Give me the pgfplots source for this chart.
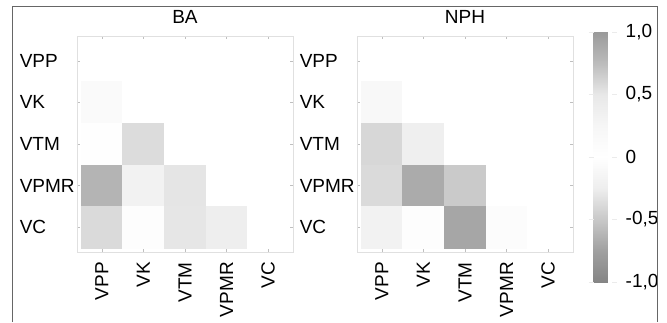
\documentclass[border=0pt]{standalone}
\usepackage{fontspec}
\setmainfont{Liberation Sans}
\usepackage{pgfplots}
\usepackage{pgfplotstable}
\pgfplotsset{compat=1.18}

\pgfplotstableread{
x y c
0 0 0
1 0 0
2 0 0
3 0 0
4 0 0
0 1 0.14
1 1 0
2 1 0
3 1 0
4 1 0
0 2 0.03
1 2 0.57
2 2 0
3 2 0
4 2 0
0 3 0.81
1 3 0.32
2 3 0.52
3 3 0
4 3 0
0 4 0.58
1 4 0.06
2 4 0.51
3 4 0.39
4 4 0
}\tableBA

\pgfplotstableread{
x y c
0 0 0
1 0 0
2 0 0
3 0 0
4 0 0
0 1 0.19
1 1 0
2 1 0
3 1 0
4 1 0
0 2 0.60
1 2 0.375
2 2 0
3 2 0
4 2 0
0 3 0.58
1 3 0.875
2 3 0.67
3 3 0
4 3 0
0 4 0.32
1 4 0.06
2 4 0.91
3 4 0.08
4 4 0
}\tableNPH

\begin{document}
\begin{tikzpicture}
\useasboundingbox (0pt,0pt) rectangle (667pt,322pt);
\pgfplotsset{
  myax/.style={
    scale only axis, width=216pt, height=216pt,
    anchor=north west,
    xmin=-0.6, xmax=4.6, ymin=-0.6, ymax=4.6, y dir=reverse,
    xtick={0,...,4}, ytick={0,...,4},
    xticklabels={VPP,VK,VTM,VPMR,VC},
    yticklabels={VPP,VK,VTM,VPMR,VC},
    axis line style={draw=black!12, line width=0.8pt},
    tick style={draw=black!25, line width=0.6pt},
    major tick length=3pt, tick align=inside,
    font=\fontsize{19}{22}\selectfont,
    xticklabel style={yshift=-10pt, rotate=90, anchor=east, inner sep=0pt},
    yticklabel style={text width=56pt, align=left, anchor=east, inner sep=0pt, xshift=-1pt},
    title style={anchor=base, inner sep=0pt, yshift=7pt},
    colormap={gr}{rgb255=(133,133,133) rgb255=(160,160,160) rgb255=(200,200,200) rgb255=(238,238,238) rgb255=(255,255,255) rgb255=(246,246,246) rgb255=(232,232,232) rgb255=(188,188,188) rgb255=(154,154,154)},
    point meta min=-1, point meta max=1,
  }
}
\begin{axis}[myax, at={(77pt,286pt)}, title={BA}]
\addplot[matrix plot*, mesh/cols=5, point meta=explicit] table[x=x, y=y, meta=c] {\tableBA};
\end{axis}
\begin{axis}[myax, at={(357pt,286pt)}, title={NPH},
  colorbar,
  colorbar style={
    at={(parent axis.north east)}, anchor=north west,
    xshift=12pt, yshift=4pt,
    scale only axis, width=18pt, height=250pt,
    ytick={-1,-0.5,0,0.5,1},
    yticklabels={{-1,0},{-0,5},{0},{0,5},{1,0}},
    axis line style={draw=none},
    tick align=outside, major tick length=5pt,
    tick style={draw=black!8, line width=0.6pt},
    yticklabel style={anchor=west, inner sep=0pt, xshift=9pt},
    font=\fontsize{19}{22}\selectfont,
  }]
\addplot[matrix plot*, mesh/cols=5, point meta=explicit] table[x=x, y=y, meta=c] {\tableNPH};
\end{axis}
\draw[black!60, line width=1pt] (12pt,0pt) -- (12pt,315pt) -- (657pt,315pt) -- (657pt,0pt);
\end{tikzpicture}
\end{document}
